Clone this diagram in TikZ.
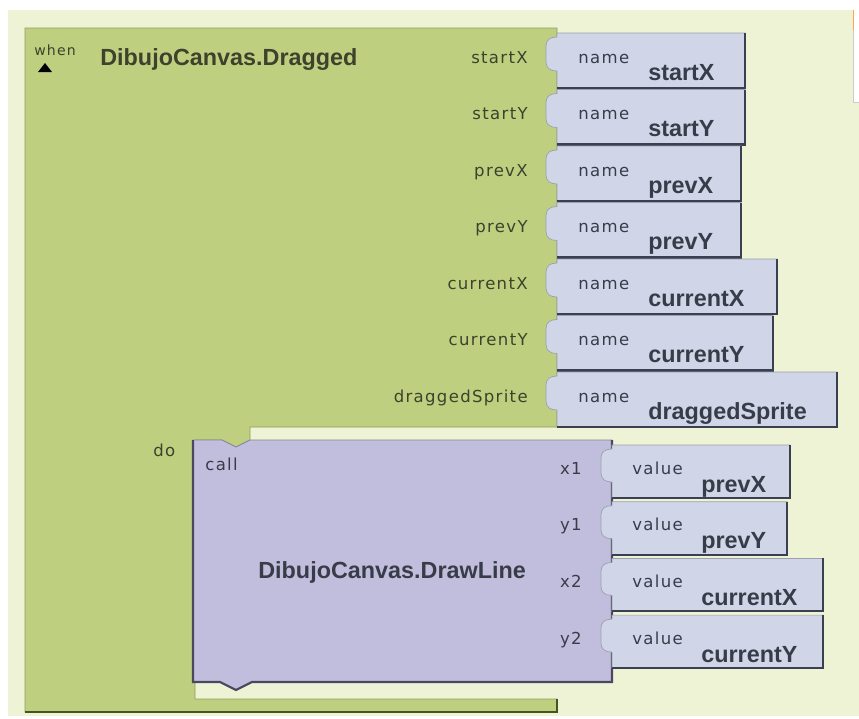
\documentclass[tikz,border=0pt]{standalone}
\usepackage{fontspec}
\setmainfont{Liberation Sans}
\newfontfamily\labelfont[LetterSpace=8]{DejaVu Sans}
\definecolor{bgpanel}{RGB}{237,243,212}
\definecolor{eventgreen}{RGB}{190,208,128}
\definecolor{eventdark}{RGB}{70,84,36}
\definecolor{callpurple}{RGB}{192,190,220}
\definecolor{calldark}{RGB}{74,72,96}
\definecolor{argblue}{RGB}{208,214,232}
\definecolor{argdark}{RGB}{58,64,80}
\definecolor{olivetext}{RGB}{60,66,44}
\definecolor{slatetext}{RGB}{56,60,72}
\tikzset{
	eventblock/.style={fill=eventgreen,draw=eventgreen!75!black,line width=0.4pt},
	eventedge/.style={draw=eventdark,line width=1.2pt},
	callblock/.style={fill=callpurple,draw=callpurple!70!black,line width=0.4pt},
	calledge/.style={draw=calldark,line width=1.2pt},
	argblock/.style={fill=argblue,draw=argblue!75!black,line width=0.4pt},
	argedge/.style={draw=argdark,line width=1.2pt},
	boldname/.style={font=\fontsize{13.3}{15}\selectfont\bfseries,inner sep=0pt,anchor=base west},
	smalllabel/.style={font=\labelfont\fontsize{9.4}{11}\selectfont,inner sep=0pt}
}
\begin{document}
\begin{tikzpicture}[x=0.02cm,y=-0.02cm]
	\useasboundingbox (0,0) rectangle (859,718);
	\fill[white] (0,0) rectangle (859,718);
	\fill[bgpanel] (8,10) rectangle (859,716);
	\fill[white] (853,10) rectangle (859,102);
	\draw[orange!70,line width=1pt] (853.5,10) -- (853.5,30);
	\draw[black!20] (853.5,30) -- (853.5,102) -- (859,102);

	% when block
	\filldraw[eventblock] (25,28) -- (557,28) -- (557,427) -- (250,427) -- (250,440) -- (236,447) -- (222,440)
		-- (195,440) -- (195,699) -- (557,699) -- (557,712) -- (25,712) -- cycle;
	\draw[eventedge] (25,712) -- (557,712) -- (557,699);
	\node[smalllabel,font=\labelfont\fontsize{8}{9}\selectfont,text=olivetext,anchor=base west] (whenlbl) at (34,55) {when};
	\fill[black] (38,72) -- (45,63) -- (52,72) -- cycle;
	\node[boldname,text=olivetext] (evtname) at (100,65) {DibujoCanvas.Dragged};
	\node[smalllabel,text=olivetext,anchor=base west] (dolbl) at (153,456) {do};

	% call block
	\filldraw[callblock] (193,440) -- (222,440) -- (236,447) -- (250,440) -- (612,440) -- (612,682)
		-- (252,682) -- (236,690) -- (220,682) -- (193,682) -- cycle;
	\draw[calledge] (612,440) -- (612,682) -- (252,682) -- (236,690) -- (220,682) -- (193,682) -- (193,440);
	\node[smalllabel,text=slatetext,anchor=base west] (calllbl) at (205,470) {call};
	\node[boldname,text=slatetext] (callname) at (258,578) {DibujoCanvas.DrawLine};

	% event parameters
	\foreach \i/\lbl/\r in {0/startX/745,1/startY/745,2/prevX/741,3/prevY/741,4/currentX/777,5/currentY/773,6/draggedSprite/837}{
		\pgfmathsetmacro\tp{33+56.5*\i}
		\filldraw[argblock] (557,\tp) -- (\r,\tp) -- (\r,\tp+55) -- (557,\tp+55) -- (557,\tp+38)
			.. controls (550,\tp+38) and (546,\tp+35) .. (546,\tp+29) -- (546,\tp+13)
			.. controls (546,\tp+7) and (550,\tp+4) .. (557,\tp+4) -- cycle;
		\draw[argedge] (\r,\tp) -- (\r,\tp+55) -- (557,\tp+55);
		\node[smalllabel,text=olivetext,anchor=base east] (par\i) at (528,\tp+30) {\lbl};
		\node[smalllabel,text=slatetext,anchor=base west] (parkey\i) at (578,\tp+30) {name};
		\node[boldname,text=slatetext] (parname\i) at (648,\tp+47) {\lbl};
	}

	% call arguments
	\foreach \i/\lbl/\val/\r in {0/x1/prevX/790,1/y1/prevY/787,2/x2/currentX/823,3/y2/currentY/823}{
		\pgfmathsetmacro\tp{445+56.7*\i}
		\filldraw[argblock] (612,\tp) -- (\r,\tp) -- (\r,\tp+53) -- (612,\tp+53) -- (612,\tp+37)
			.. controls (605,\tp+37) and (601,\tp+34) .. (601,\tp+28) -- (601,\tp+13)
			.. controls (601,\tp+7) and (605,\tp+4) .. (612,\tp+4) -- cycle;
		\draw[argedge] (\r,\tp) -- (\r,\tp+53) -- (612,\tp+53);
		\node[smalllabel,text=slatetext,anchor=base east] (arg\i) at (582,\tp+29) {\lbl};
		\node[smalllabel,text=slatetext,anchor=base west] (argkey\i) at (632,\tp+29) {value};
		\node[boldname,text=slatetext] (argval\i) at (701,\tp+47) {\val};
	}
\end{tikzpicture}
\end{document}
